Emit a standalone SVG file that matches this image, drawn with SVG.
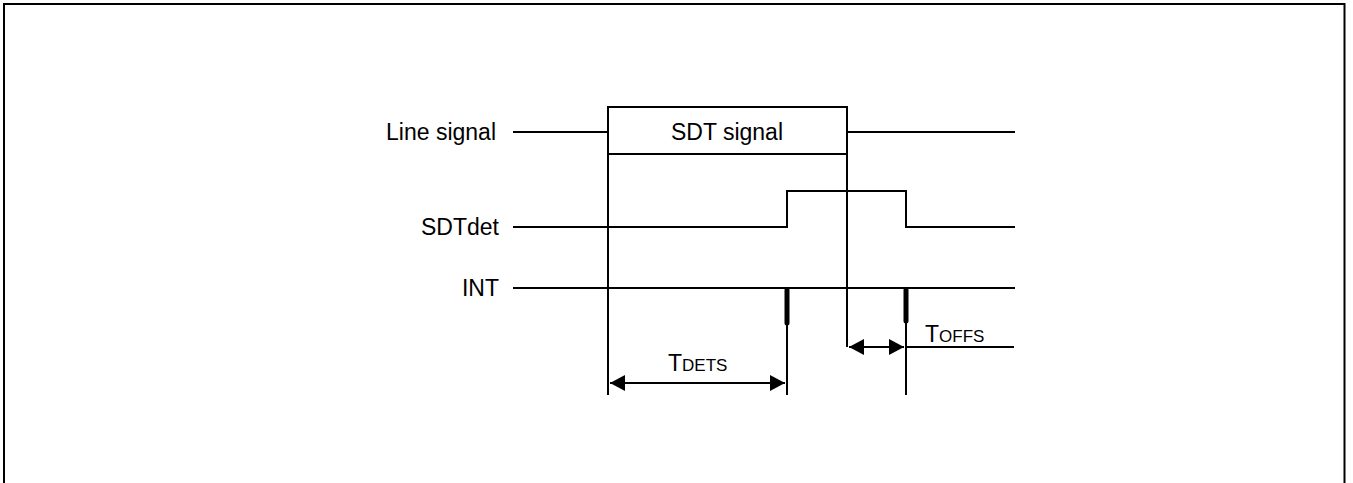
<svg xmlns="http://www.w3.org/2000/svg" width="1353" height="483" viewBox="0 0 1353 483">
<defs>
<marker id="ah" viewBox="0 0 15 16" refX="15" refY="8" markerWidth="15" markerHeight="16" markerUnits="userSpaceOnUse" orient="auto-start-reverse">
<path d="M0,0 L15,8 L0,16 Z" fill="#000"/>
</marker>
<style>
.ln{stroke:#000;stroke-width:2;fill:none}
.pulse{stroke:#000;stroke-width:5;stroke-linecap:round;fill:none}
.lbl{font-family:"Liberation Sans",Arial,sans-serif;font-size:23px;fill:#000}
.sc{font-size:17px}
</style>
</defs>
<rect x="4" y="4" width="1340.5" height="520" fill="#fff" stroke="#000" stroke-width="2"/>
<g id="labels">
<text class="lbl" x="496" y="140" text-anchor="end">Line signal</text>
<text class="lbl" x="499" y="235" text-anchor="end">SDTdet</text>
<text class="lbl" x="499" y="296" text-anchor="end">INT</text>
</g>
<g id="sdt-signal">
<rect x="608" y="107" width="239" height="47" fill="#fff" stroke="#000" stroke-width="2"/>
<text class="lbl" x="727" y="140" text-anchor="middle">SDT signal</text>
</g>
<g id="connectors">
<path class="ln" d="M513,132 H608 M847,132 H1015"/>
<path class="ln" d="M513,227 H787 V191 H906 V227 H1015"/>
<path class="ln" d="M513,288 H1015"/>
<path class="ln" d="M608,154 V395 M847,154 V347 M787,288 V395 M906,288 V395"/>
<path class="pulse" d="M787,290 V323 M906,290 V321"/>
<path class="ln" d="M610,383 H785" marker-start="url(#ah)" marker-end="url(#ah)"/>
<path class="ln" d="M849,347 H904" marker-start="url(#ah)" marker-end="url(#ah)"/>
<path class="ln" d="M906,347 H1014"/>
</g>
<g id="tdets">
<text class="lbl" x="668" y="371">T<tspan class="sc">DETS</tspan></text>
</g>
<g id="toffs">
<text class="lbl" x="925" y="342">T<tspan class="sc">OFFS</tspan></text>
</g>
</svg>
